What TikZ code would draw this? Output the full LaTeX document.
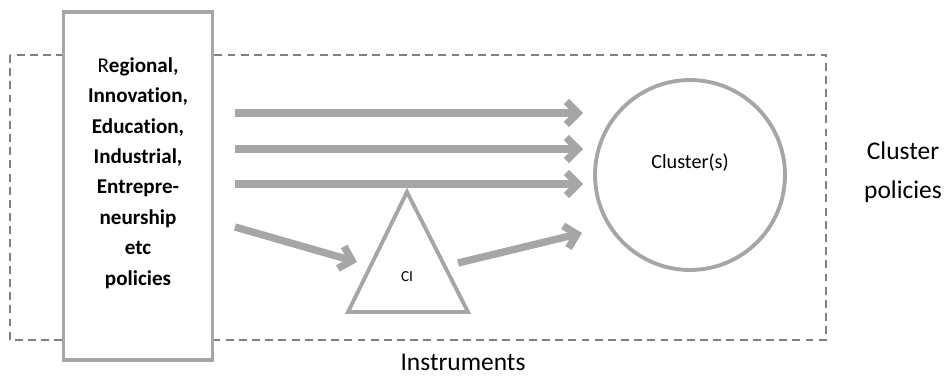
\documentclass[tikz,border=0pt]{standalone}
\usepackage{fontspec}
\setmainfont{Carlito}[Ligatures=NoCommon]
\usetikzlibrary{arrows.meta}
\definecolor{shapegray}{HTML}{A6A6A6}
\definecolor{framegray}{HTML}{808080}

\begin{document}
\begin{tikzpicture}[x=0.02cm,y=-0.02cm,
  bigarrow/.style={-{Straight Barb[length=6.5pt,width=13pt]}, line width=4.2pt, shapegray},
  shapeline/.style={draw=shapegray, line width=2.2pt, fill=white}]
\useasboundingbox (0,0) rectangle (945,376);
% dashed frame of the instruments
\draw[dashed, dash pattern=on 4.5pt off 3pt, framegray, line width=0.8pt] (10,55) rectangle (826,340);
\node[font=\fontsize{14.5}{22}\selectfont] (instr) at (463,362) {Instruments};
% LEFT: other policies
\node[shapeline, line width=1.8pt, minimum width=2.98cm, minimum height=6.96cm] (polbox) at (138,186) {};
\node[font=\fontsize{12}{17.3}\selectfont\bfseries, align=center] (poltext) at (138,173)
  {{\mdseries R}egional,\\Innovation,\\Education,\\Industrial,\\Entrepre-\\neurship\\etc\\policies};
% RIGHT: cluster
\node[shapeline, circle, minimum size=3.8cm] (clust) at (690,175) {};
\node[font=\fontsize{11.5}{14}\selectfont] (clusttext) at (690,163) {Cluster(s)};
\node[font=\fontsize{14.5}{22}\selectfont, align=center] (clpol) at (903,172) {Cluster\\policies};
% CENTER: intermediary
\coordinate (ciA) at (407,192);
\coordinate (ciB) at (468,312);
\coordinate (ciC) at (348,312);
\draw[shapeline, line join=miter] (ciA) -- (ciB) -- (ciC) -- cycle;
\node[font=\fontsize{8.7}{10}\selectfont] (ci) at (407,277) {CI};
% arrows
\coordinate (s1) at (235,113); \coordinate (e1) at (583,113);
\coordinate (s2) at (235,149); \coordinate (e2) at (583,149);
\coordinate (s3) at (235,184); \coordinate (e3) at (583,184);
\coordinate (s4) at (235,227); \coordinate (e4) at (357,262);
\coordinate (s5) at (458,263); \coordinate (e5) at (582,233);
\draw[bigarrow] (s1) -- (e1);
\draw[bigarrow] (s2) -- (e2);
\draw[bigarrow] (s3) -- (e3);
\draw[bigarrow] (s4) -- (e4);
\draw[bigarrow] (s5) -- (e5);
\end{tikzpicture}
\end{document}
